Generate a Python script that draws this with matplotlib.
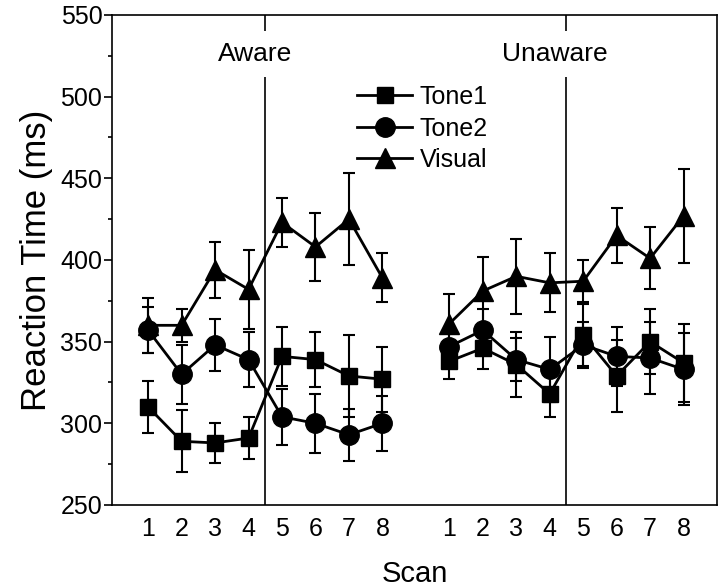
import matplotlib
matplotlib.use('Agg')
import matplotlib.pyplot as plt
from matplotlib.ticker import MultipleLocator, FixedLocator
import numpy as np

plt.rcParams['font.family'] = ['Liberation Sans', 'DejaVu Sans']

# 数据
scans = [1, 2, 3, 4, 5, 6, 7, 8]
aware_x = [1, 2, 3, 4, 5, 6, 7, 8]
unaware_x = [10, 11, 12, 13, 14, 15, 16, 17]
tick_labels = ['1', '2', '3', '4', '5', '6', '7', '8'] * 2

aware_tone1 = [310, 289, 288, 291, 341, 339, 329, 327]
aware_tone1_err = [16, 19, 12, 13, 18, 17, 25, 20]
aware_tone2 = [357, 330, 348, 339, 304, 300, 293, 300]
aware_tone2_err = [14, 18, 16, 17, 17, 18, 16, 17]
aware_visual = [360, 360, 394, 382, 423, 408, 425, 389]
aware_visual_err = [17, 10, 17, 24, 15, 21, 28, 15]

unaware_tone1 = [338, 346, 336, 318, 354, 329, 350, 337]
unaware_tone1_err = [11, 13, 20, 14, 19, 22, 20, 24]
unaware_tone2 = [347, 357, 339, 333, 348, 341, 340, 333]
unaware_tone2_err = [10, 13, 13, 20, 14, 18, 22, 22]
unaware_visual = [361, 381, 390, 386, 387, 415, 401, 427]
unaware_visual_err = [18, 21, 23, 18, 13, 17, 19, 29]

series = [
    ('Tone1', 's', 12, aware_tone1, aware_tone1_err, unaware_tone1, unaware_tone1_err),
    ('Tone2', 'o', 14, aware_tone2, aware_tone2_err, unaware_tone2, unaware_tone2_err),
    ('Visual', '^', 15, aware_visual, aware_visual_err, unaware_visual, unaware_visual_err),
]

fig = plt.figure(figsize=(7.2, 5.87), dpi=100, facecolor='white')
ax = fig.add_axes([0.1556, 0.1397, 0.8403, 0.8348])

handles = []
for name, mk, ms, a_y, a_e, u_y, u_e in series:
    for xs, ys, es in [(aware_x, a_y, a_e), (unaware_x, u_y, u_e)]:
        ax.errorbar(xs, ys, yerr=es, fmt='none', ecolor='black',
                    elinewidth=1.5, capsize=4, capthick=1.5, zorder=2)
        line, = ax.plot(xs, ys, color='black', lw=2, marker=mk, ms=ms,
                        mfc='black', mec='black', zorder=3)
    handles.append((line, name))

# 分隔线
ax.axvline(4.5, color='black', lw=1.2, zorder=1)
ax.axvline(13.5, color='black', lw=1.2, zorder=1)

ax.text(4.19, 526, 'Aware', ha='center', va='center', fontsize=19,
        bbox=dict(facecolor='white', edgecolor='none', pad=8), zorder=4)
ax.text(13.16, 526, 'Unaware', ha='center', va='center', fontsize=19,
        bbox=dict(facecolor='white', edgecolor='none', pad=8), zorder=4)

# 坐标轴
ax.set_xlim(-0.08, 18.0)
ax.set_ylim(250, 550)
ax.xaxis.set_major_locator(FixedLocator(aware_x + unaware_x))
ax.set_xticklabels(tick_labels)
ax.yaxis.set_major_locator(MultipleLocator(50))
ax.yaxis.set_minor_locator(MultipleLocator(25))
ax.tick_params(axis='x', length=0, pad=9, labelsize=18)
ax.tick_params(axis='y', which='major', direction='out', length=6, width=1.2, labelsize=18, pad=1)
ax.tick_params(axis='y', which='minor', direction='out', length=3, width=1.2)
for sp in ax.spines.values():
    sp.set_linewidth(1.2)

ax.set_xlabel('Scan', fontsize=21, labelpad=13)
ax.set_ylabel('Reaction Time (ms)', fontsize=25, labelpad=5)

ax.legend([h for h, n in handles], [n for h, n in handles], loc='upper left',
          bbox_to_anchor=(0.405, 0.857), frameon=False, fontsize=18,
          handlelength=2.2, handletextpad=0.3, labelspacing=0.3,
          borderpad=0, borderaxespad=0)

fig.savefig('out.png', dpi=100, facecolor='white')
